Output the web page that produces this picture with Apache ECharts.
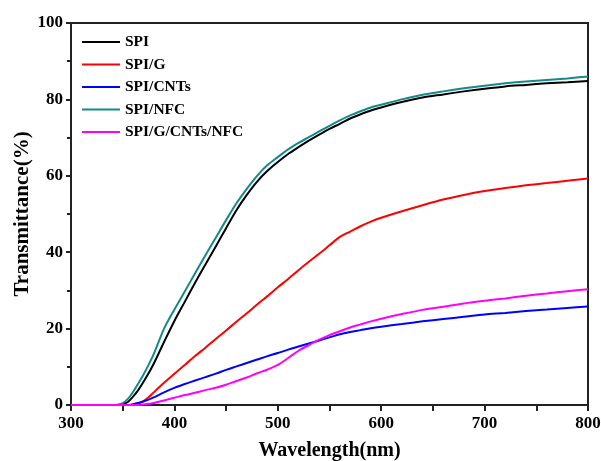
<!DOCTYPE html>
<html>
<head>
<meta charset="utf-8">
<script src="https://cdn.jsdelivr.net/npm/echarts@6/dist/echarts.min.js"></script>
<style>
  html, body { margin: 0; padding: 0; background: #fff; }
  #chart { width: 601px; height: 461px; }
</style>
</head>
<body>
<div id="chart"></div>
<script>
// wavelength (nm)
var wavelength = [300,320,340,345,350,355,360,365,370,375,380,390,400,410,420,430,440,450,460,470,480,490,500,510,520,530,540,550,560,570,580,590,600,620,640,660,680,700,720,740,760,780,800];

// transmittance (%)
var spi = [0,0,0,0,0.2,0.8,2.2,3.9,6,8.3,10.8,16.5,22,27,32,36.8,41.5,46.3,51,55,58.5,61.3,63.6,65.7,67.5,69.2,70.8,72.3,73.6,75,76.1,77.1,77.9,79.3,80.5,81.3,82.1,82.8,83.4,83.8,84.2,84.5,84.8];
var spiG = [0,0,0,0,0,0,0.1,0.4,1,2,3.3,5.8,8.2,10.5,12.8,15,17.3,19.5,21.8,24,26.3,28.5,30.8,33,35.3,37.5,39.6,41.8,44,45.4,46.8,48,49,50.7,52.3,53.8,55,56,56.8,57.5,58.1,58.7,59.3];
var spiCNTs = [0,0,0,0,0,0,0.2,0.5,0.9,1.4,2,3.3,4.5,5.5,6.4,7.3,8.2,9.2,10.1,11,11.9,12.8,13.6,14.5,15.3,16.1,16.9,17.7,18.5,19.1,19.6,20.1,20.5,21.2,21.9,22.5,23.1,23.7,24.1,24.6,25,25.4,25.8];
var spiNFC = [0,0,0,0.1,0.5,1.6,3.4,5.6,7.9,10.5,13.3,20,25,29.7,34.5,39.2,43.8,48.4,52.8,56.6,60,62.8,64.9,66.9,68.6,70.1,71.6,73.1,74.5,75.8,76.9,77.9,78.6,80,81.2,82.1,82.9,83.6,84.2,84.7,85.1,85.5,86];
var spiAll = [0,0,0,0,0,0,0,0,0.1,0.3,0.5,1.2,1.9,2.6,3.2,3.9,4.5,5.3,6.3,7.2,8.3,9.3,10.5,12.3,14.2,15.7,17.1,18.3,19.3,20.3,21.1,21.9,22.6,23.8,24.9,25.7,26.6,27.3,27.9,28.6,29.2,29.8,30.3];

var names = ['SPI', 'SPI/G', 'SPI/CNTs', 'SPI/NFC', 'SPI/G/CNTs/NFC'];
var colors = ['#000000', '#ff0000', '#0000ff', '#138a8a', '#ff00ff'];
var values = [spi, spiG, spiCNTs, spiNFC, spiAll];

var font = "'Liberation Serif', 'Times New Roman', serif";

function pairs(arr) {
    return wavelength.map(function (w, i) { return [w, arr[i]]; });
}

var series = names.map(function (n, k) {
    return {
        name: n,
        type: 'line',
        showSymbol: false,
        symbol: 'none',
        smooth: 0.3,
        lineStyle: { color: colors[k], width: 2 },
        itemStyle: { color: colors[k] },
        data: pairs(values[k])
    };
});

var myChart = echarts.init(document.getElementById('chart'));
myChart.setOption({
    animation: false,
    backgroundColor: '#fff',
    grid: {
        left: 71, right: 13, top: 23, bottom: 56,
        outerBoundsMode: 'none',
        containLabel: false,
        show: true, borderColor: '#222', borderWidth: 2, backgroundColor: 'transparent'
    },
    legend: {
        orient: 'vertical',
        left: 77, top: 29,
        itemWidth: 38, itemHeight: 14, itemGap: 6.5,
        icon: 'path://M0,6 L40,6 L40,8 L0,8 Z',
        textStyle: { fontFamily: font, fontWeight: 'bold', fontSize: 15.5, color: '#000' },
        data: names
    },
    xAxis: {
        type: 'value',
        min: 300, max: 800, interval: 100,
        name: 'Wavelength(nm)',
        nameLocation: 'middle', nameGap: 36,
        nameMoveOverlap: false,
        nameTextStyle: { fontFamily: font, fontWeight: 'bold', fontSize: 20, color: '#000' },
        axisLine: { show: true, lineStyle: { color: '#222', width: 2 } },
        axisTick: { show: true, inside: false, length: 6, lineStyle: { color: '#222', width: 2 } },
        minorTick: { show: true, splitNumber: 2, length: 6, lineStyle: { color: '#222', width: 2 } },
        axisLabel: { fontFamily: font, fontWeight: 'bold', fontSize: 17, color: '#000', margin: 10 },
        splitLine: { show: false }
    },
    yAxis: {
        type: 'value',
        min: 0, max: 100, interval: 20,
        name: 'Transmittance(%)',
        nameLocation: 'middle', nameGap: 38,
        nameMoveOverlap: false,
        nameTextStyle: { fontFamily: font, fontWeight: 'bold', fontSize: 21, color: '#000' },
        axisLine: { show: true, lineStyle: { color: '#222', width: 2 } },
        axisTick: { show: true, inside: false, length: 5, lineStyle: { color: '#222', width: 2 } },
        minorTick: { show: true, splitNumber: 2, length: 4, lineStyle: { color: '#222', width: 2 } },
        axisLabel: { fontFamily: font, fontWeight: 'bold', fontSize: 17, color: '#000', margin: 8 },
        splitLine: { show: false }
    },
    series: series
});
</script>
</body>
</html>
